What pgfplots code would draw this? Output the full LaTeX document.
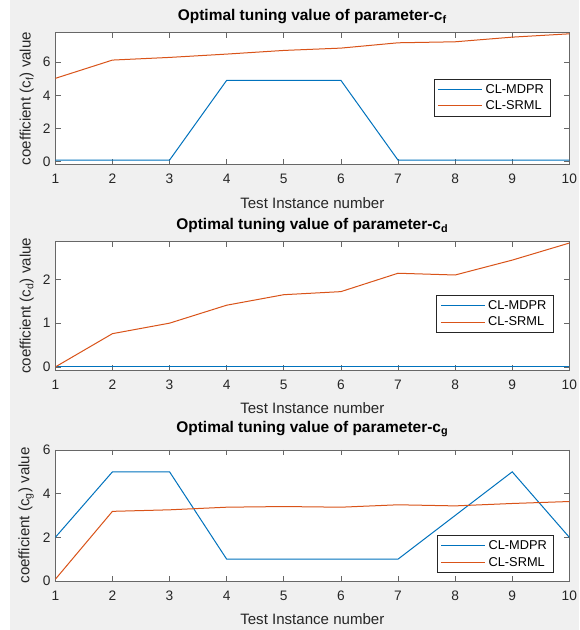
\documentclass[border=0pt]{standalone}
\usepackage{fontspec}
\setmainfont{Liberation Sans}
\usepackage{pgfplots}
\pgfplotsset{compat=1.18}

\definecolor{mblue}{RGB}{0,114,189}
\definecolor{morange}{RGB}{217,83,25}
\definecolor{figgray}{RGB}{240,240,240}
\definecolor{axgray}{RGB}{38,38,38}

\pgfplotsset{
  legend image code/.code={\draw[#1] (0pt,0pt) -- (33pt,0pt);},
  mstyle/.style={
    scale only axis, width=385.5pt,
    xmin=1, xmax=10, xtick={1,...,10},
    tick align=inside, major tick length=4pt,
    axis line style={axgray!70, line width=0.5pt},
    tick style={axgray!70, line width=0.5pt},
    ticklabel style={font=\fontsize{10.3}{12}\selectfont, text=axgray},
    xticklabel style={yshift=-4pt},
    /pgf/number format/assume math mode=true,
    label style={font=\fontsize{11.3}{13}\selectfont, text=axgray},
    xlabel style={yshift=-3pt},
    xlabel={Test Instance number},
    title style={font=\bfseries\fontsize{11.6}{13}\selectfont, yshift=-3pt},
    axis background/.style={fill=white},
    legend style={font=\fontsize{9.6}{11}\selectfont, draw=axgray, fill=white,
      line width=0.5pt, inner xsep=3pt, inner ysep=1.5pt, row sep=0pt,
      nodes={inner sep=2pt, text height=7pt, text depth=1.3pt}},
    legend cell align=left,
    every axis plot/.append style={line width=0.75pt},
  },
}

\begin{document}
\begin{tikzpicture}
\useasboundingbox (0,0) rectangle (434.25pt,472.5pt);
\fill[figgray] (7.5pt,0) rectangle (434.25pt,472.5pt);

% c_f
\begin{axis}[mstyle, at={(41.5pt,349.3pt)}, anchor=south west, height=98.7pt,
  ymin=-0.15, ymax=7.77, ytick={0,2,4,6},
  title={Optimal tuning value of parameter-c\textsubscript{f}},
  ylabel={coefficient (c\textsubscript{f}) value},
  legend style={at={(0.964,0.506)}, anchor=east}]
\addplot[mblue] coordinates {(1,0.1)(2,0.1)(3,0.1)(4,4.9)(5,4.9)(6,4.9)(7,0.1)(8,0.1)(9,0.1)(10,0.1)};
\addlegendentry{CL-MDPR}
\addplot[morange] coordinates {(1,5.02)(2,6.12)(3,6.28)(4,6.48)(5,6.70)(6,6.84)(7,7.16)(8,7.22)(9,7.50)(10,7.70)};
\addlegendentry{CL-SRML}
\end{axis}

% c_d
\begin{axis}[mstyle, at={(41.5pt,195pt)}, anchor=south west, height=96.2pt,
  ymin=-0.07, ymax=2.86, ytick={0,1,2},
  title={Optimal tuning value of parameter-c\textsubscript{d}},
  ylabel={coefficient (c\textsubscript{d}) value},
  legend style={at={(0.969,0.437)}, anchor=east}]
\addplot[mblue] coordinates {(1,0)(2,0)(3,0)(4,0)(5,0)(6,0)(7,0)(8,0)(9,0)(10,0)};
\addlegendentry{CL-MDPR}
\addplot[morange] coordinates {(1,0)(2,0.76)(3,1.0)(4,1.41)(5,1.65)(6,1.72)(7,2.14)(8,2.10)(9,2.44)(10,2.83)};
\addlegendentry{CL-SRML}
\end{axis}

% c_g
\begin{axis}[mstyle, at={(41.5pt,36.75pt)}, anchor=south west, height=98.25pt,
  ymin=0, ymax=6, ytick={0,2,4,6},
  title={Optimal tuning value of parameter-c\textsubscript{g}},
  title style={yshift=3pt},
  ylabel={coefficient (c\textsubscript{g}) value},
  legend style={at={(0.970,0.063)}, anchor=south east}]
\addplot[mblue] coordinates {(1,2)(2,5)(3,5)(4,1)(5,1)(6,1)(7,1)(8,3)(9,5)(10,2)};
\addlegendentry{CL-MDPR}
\addplot[morange] coordinates {(1,0.08)(2,3.19)(3,3.26)(4,3.38)(5,3.41)(6,3.38)(7,3.49)(8,3.44)(9,3.55)(10,3.64)};
\addlegendentry{CL-SRML}
\end{axis}
\end{tikzpicture}
\end{document}
